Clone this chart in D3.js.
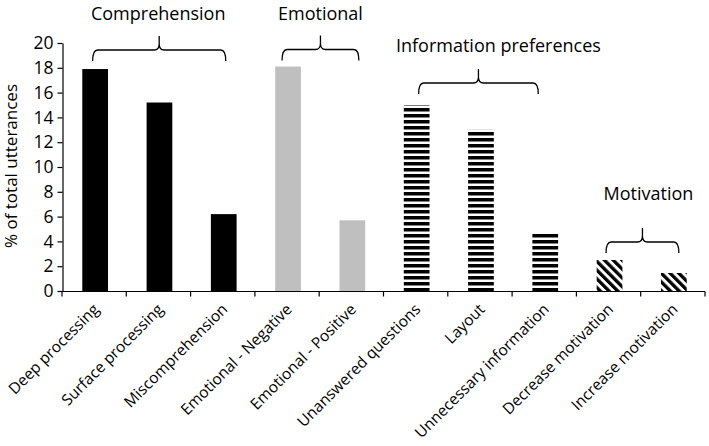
<!DOCTYPE html>
<html>
<head>
<meta charset="utf-8">
<script src="https://cdn.jsdelivr.net/npm/d3@7"></script>
<style>
  html, body { margin: 0; padding: 0; background: #fff; }
  svg { display: block; font-family: "Open Sans", sans-serif; }
</style>
</head>
<body>
<svg id="chart" width="709" height="446"></svg>
<script>
// ---- data ----
const categories = ["Deep processing", "Surface processing", "Miscomprehension",
  "Emotional - Negative", "Emotional - Positive", "Unanswered questions",
  "Layout", "Unnecessary information", "Decrease motivation", "Increase motivation"];
const values = [17.9, 15.2, 6.2, 18.1, 5.7, 15.0, 13.0, 4.7, 2.5, 1.45];
const fills = ["solid", "solid", "solid", "grey", "grey", "hstripe", "hstripe", "hstripe", "diag", "diag"];
const yTicks = [0, 2, 4, 6, 8, 10, 12, 14, 16, 18, 20];
const yTitle = "% of total utterances";
const groupNames = ["Comprehension", "Emotional", "Information preferences", "Motivation"];
const groupFirst = ["Deep processing", "Emotional - Negative", "Unanswered questions", "Decrease motivation"];
const groupLast = ["Miscomprehension", "Emotional - Positive", "Unnecessary information", "Increase motivation"];

// ---- layout ----
const W = 709, H = 446;
const plotLeft = 62, plotRight = 705, plotTop = 43, plotBottom = 291;
// per-group bracket layout: [left adj, right adj, bracket y, label dx, label baseline]
const bracketLayout = [
  [-1.5, 3, 50, -1, 19.5],
  [-5, 7.5, 49.5, 0, 19.5],
  [3, -6, 83, 20, 51.5],
  [-2.5, 6, 242, 6, 199.5]
];

const svg = d3.select("#chart");
const defs = svg.append("defs");

const ph = defs.append("pattern").attr("id", "hstripe")
  .attr("patternUnits", "userSpaceOnUse").attr("width", 10).attr("height", 6);
ph.append("rect").attr("width", 10).attr("height", 6).attr("fill", "#fff");
ph.append("rect").attr("y", 0).attr("width", 10).attr("height", 3.5).attr("fill", "#000");

const pd = defs.append("pattern").attr("id", "diag")
  .attr("patternUnits", "userSpaceOnUse").attr("width", 6.2).attr("height", 6.2)
  .attr("patternTransform", "rotate(-45)");
pd.append("rect").attr("width", 6.2).attr("height", 6.2).attr("fill", "#fff");
pd.append("rect").attr("x", 0).attr("width", 3.3).attr("height", 6.2).attr("fill", "#000");

const fillMap = { solid: "#000", grey: "#bfbfbf", hstripe: "url(#hstripe)", diag: "url(#diag)" };

const x = d3.scaleBand().domain(categories).range([plotLeft, plotRight])
  .paddingInner(0.6).paddingOuter(0.3);
const y = d3.scaleLinear().domain([0, 20]).range([plotBottom, plotTop]);

// bars
svg.append("g").selectAll("rect").data(categories).join("rect")
  .attr("x", d => x(d) + 1)
  .attr("y", (d, i) => y(values[i]))
  .attr("width", x.bandwidth())
  .attr("height", (d, i) => y(0) - y(values[i]))
  .attr("fill", (d, i) => fillMap[fills[i]]);

// y axis
const yAxis = d3.axisLeft(y).tickValues(yTicks).tickSize(5).tickPadding(4).tickSizeOuter(0);
const gy = svg.append("g").attr("transform", `translate(${plotLeft + 0.5},0)`).call(yAxis);
gy.select(".domain").attr("stroke", "#000").attr("stroke-width", 1.2);
gy.selectAll(".tick line").attr("stroke", "#000").attr("stroke-width", 1.2);
gy.selectAll(".tick text").attr("font-size", 17.5).attr("font-family", "Open Sans, sans-serif").attr("fill", "#000");

// x axis with ticks between categories
const gx = svg.append("g").attr("transform", `translate(0,${plotBottom + 0.5})`);
gx.append("line").attr("x1", plotLeft).attr("x2", plotRight).attr("stroke", "#000").attr("stroke-width", 1.2);
const step = x.step();
const boundaries = d3.range(categories.length + 1).map(i => plotLeft + i * step);
gx.selectAll("line.tk").data(boundaries).join("line").attr("class", "tk")
  .attr("x1", d => d).attr("x2", d => d).attr("y1", 0).attr("y2", 5)
  .attr("stroke", "#000").attr("stroke-width", 1.2);
gx.selectAll("text").data(categories).join("text")
  .attr("transform", d => `translate(${x(d) + x.bandwidth() / 2 - 2},${11}) rotate(-45)`)
  .attr("text-anchor", "end")
  .attr("dy", "0.71em")
  .attr("font-size", 15.5)
  .attr("fill", "#000")
  .text(d => d);

// y title
svg.append("text")
  .attr("transform", `translate(17,${166}) rotate(-90)`)
  .attr("text-anchor", "middle")
  .attr("font-size", 17)
  .attr("fill", "#000")
  .text(yTitle);

// brackets & group labels
groupNames.forEach((name, i) => {
  const [la, ra, y0, ldx, lby] = bracketLayout[i];
  const L = x(groupFirst[i]) + x.bandwidth() / 2 + la;
  const R = x(groupLast[i]) + x.bandwidth() / 2 + ra;
  const M = (L + R) / 2;
  const r = 5, drop = 11, rise = 14;
  const p = d3.path();
  p.moveTo(L, y0 + drop);
  p.quadraticCurveTo(L, y0, L + r, y0);
  p.lineTo(M - r, y0);
  p.quadraticCurveTo(M, y0, M, y0 - 6);
  p.lineTo(M, y0 - rise);
  p.moveTo(M, y0 - 6);
  p.quadraticCurveTo(M, y0, M + r, y0);
  p.lineTo(R - r, y0);
  p.quadraticCurveTo(R, y0, R, y0 + drop);
  svg.append("path").attr("d", p.toString()).attr("fill", "none")
    .attr("stroke", "#000").attr("stroke-width", 1.3);
  svg.append("text").attr("x", M + ldx).attr("y", lby)
    .attr("text-anchor", "middle").attr("font-size", 18).attr("fill", "#000")
    .text(name);
});
</script>
</body>
</html>
